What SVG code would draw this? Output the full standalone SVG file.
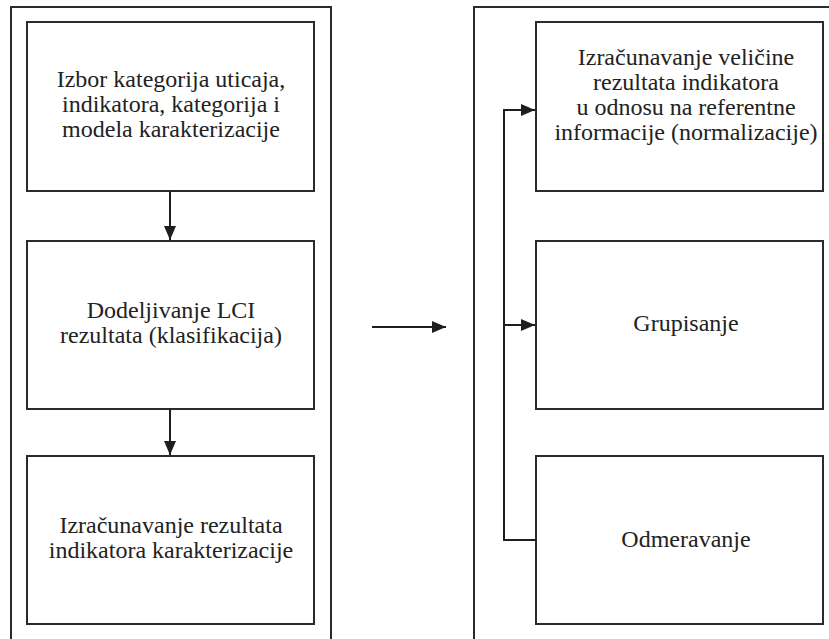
<svg xmlns="http://www.w3.org/2000/svg" width="829" height="639" viewBox="0 0 829 639">
<style>
.box{fill:#fff;stroke:#2b2b2b;stroke-width:2}
.frame{fill:none;stroke:#2b2b2b;stroke-width:2}
.c{fill:none;stroke:#1e1e1e;stroke-width:2}
</style>
<defs>
<marker id="arr" viewBox="0 0 14 12" refX="14" refY="6" markerWidth="14" markerHeight="12" markerUnits="userSpaceOnUse" orient="auto">
<path d="M0,0 L14,6 L0,12 z" fill="#1e1e1e"/>
</marker>
</defs>
<rect width="829" height="639" fill="#fff"/>
<g id="frame-left"><path class="frame" d="M11,640 V7 H331 V640"/></g>
<g id="frame-right"><path class="frame" d="M474,640 V7 H830"/></g>
<g font-family="Liberation Serif, Times New Roman, serif" font-size="24" fill="#222" text-anchor="middle">
<g id="n1"><rect class="box" x="27" y="22" width="287" height="169"/>
<text x="171" y="87">Izbor kategorija uticaja,</text>
<text x="171" y="112">indikatora, kategorija i</text>
<text x="171" y="137">modela karakterizacije</text></g>
<g id="n2"><rect class="box" x="27" y="241" width="287" height="168"/>
<text x="171" y="318">Dodeljivanje LCI</text>
<text x="171" y="343">rezultata (klasifikacija)</text></g>
<g id="n3"><rect class="box" x="27" y="456" width="287" height="168"/>
<text x="171" y="533">Izračunavanje rezultata</text>
<text x="171" y="558">indikatora karakterizacije</text></g>
<g id="n4"><rect class="box" x="536" y="22" width="287" height="169"/>
<text x="686" y="65">Izračunavanje veličine</text>
<text x="686" y="90">rezultata indikatora</text>
<text x="686" y="115">u odnosu na referentne</text>
<text x="686" y="140">informacije (normalizacije)</text></g>
<g id="n5"><rect class="box" x="536" y="241" width="287" height="168"/>
<text x="686" y="331">Grupisanje</text></g>
<g id="n6"><rect class="box" x="536" y="456" width="287" height="168"/>
<text x="686" y="547">Odmeravanje</text></g>
</g>
<g id="connectors">
<line class="c" x1="170" y1="191" x2="170" y2="240" marker-end="url(#arr)"/>
<line class="c" x1="170" y1="409" x2="170" y2="455" marker-end="url(#arr)"/>
<line class="c" x1="372" y1="327" x2="446" y2="327" marker-end="url(#arr)"/>
<path class="c" d="M536,540 H504 V110 H535" marker-end="url(#arr)"/>
<line class="c" x1="504" y1="325" x2="535" y2="325" marker-end="url(#arr)"/>
</g>
</svg>
